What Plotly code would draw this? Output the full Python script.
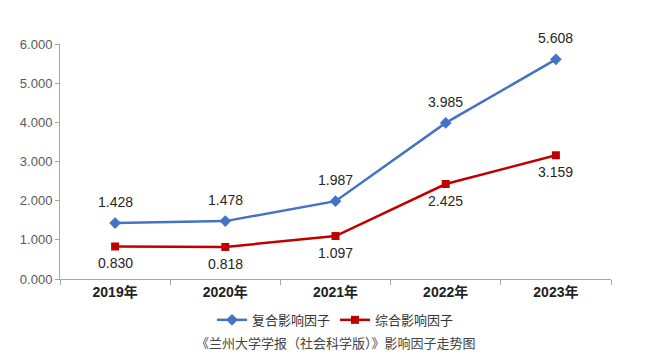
import plotly.graph_objects as go

years = ["2019年", "2020年", "2021年", "2022年", "2023年"]
composite_if = [1.428, 1.478, 1.987, 3.985, 5.608]
overall_if = [0.830, 0.818, 1.097, 2.425, 3.159]
series_names = ["复合影响因子", "综合影响因子"]
y_ticks = [0, 1, 2, 3, 4, 5, 6]
y_tick_labels = ["0.000", "1.000", "2.000", "3.000", "4.000", "5.000", "6.000"]
caption = "《兰州大学学报（社会科学版）》影响因子走势图"

FONT = "Liberation Sans, Arial, Noto Sans CJK SC"
BLUE = "#4472C4"
RED = "#C00000"

fig = go.Figure()
fig.add_trace(go.Scatter(
    x=years, y=composite_if, name=series_names[0], mode="lines+markers",
    line=dict(color=BLUE, width=2.5),
    marker=dict(symbol="diamond", size=9, color=BLUE),
))
fig.add_trace(go.Scatter(
    x=years, y=overall_if, name=series_names[1], mode="lines+markers",
    line=dict(color=RED, width=2.5),
    marker=dict(symbol="square", size=8, color=RED),
))

annotations = []
for x, v in zip(years, composite_if):
    annotations.append(dict(x=x, y=v, text=f"{v:.3f}", showarrow=False,
                            yshift=21, font=dict(size=14, color="#262626", family=FONT)))
for x, v in zip(years, overall_if):
    annotations.append(dict(x=x, y=v, text=f"{v:.3f}", showarrow=False,
                            yshift=-17, font=dict(size=14, color="#262626", family=FONT)))
annotations.append(dict(x=0.5, y=-0.272, xref="paper", yref="paper", text=caption,
                        showarrow=False, xanchor="center", yanchor="middle",
                        font=dict(size=13, color="#444444", family="Noto Sans CJK SC")))

fig.update_layout(
    width=639, height=350,
    margin=dict(l=46, r=36, t=36, b=79),
    paper_bgcolor="white", plot_bgcolor="white",
    font=dict(family=FONT),
    showlegend=True,
    legend=dict(orientation="h", x=0.5, xanchor="center", y=-0.174, yanchor="middle",
                font=dict(size=13, color="#333333", family="Noto Sans CJK SC"),
                itemwidth=30, tracegroupgap=0),
    annotations=annotations,
    xaxis=dict(type="category", range=[-0.5, len(years) - 0.5],
               showline=True, linecolor="#A6A6A6", linewidth=1,
               ticks="outside", tickson="boundaries", ticklen=5, tickcolor="#A6A6A6",
               showgrid=False, tickfont=dict(size=14, color="#222222",
                                             family="Liberation Sans, Noto Sans CJK SC",
                                             weight="bold")),
    yaxis=dict(range=[0, 6], tickvals=y_ticks, ticktext=y_tick_labels,
               showline=True, linecolor="#A6A6A6", linewidth=1,
               ticks="outside", ticklen=4, tickcolor="#A6A6A6",
               showgrid=False, zeroline=False,
               tickfont=dict(size=13, color="#595959", family=FONT)),
)

fig.write_html("out.html")
